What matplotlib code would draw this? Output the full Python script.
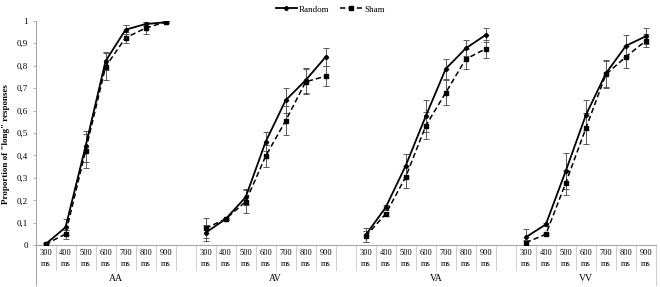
import numpy as np
import matplotlib
matplotlib.use("Agg")
import matplotlib.pyplot as plt

plt.rcParams['font.family'] = ['Liberation Serif', 'DejaVu Serif']

# ---------------- data ----------------
durations = ["300", "400", "500", "600", "700", "800", "900"]
groups = ["AA", "AV", "VA", "VV"]

random_mean = [
    [0.005, 0.08, 0.44, 0.82, 0.96, 0.985, 0.993],   # AA
    [0.056, 0.117, 0.214, 0.461, 0.646, 0.735, 0.839],  # AV
    [0.046, 0.169, 0.355, 0.575, 0.786, 0.877, 0.937],  # VA
    [0.036, 0.093, 0.332, 0.58, 0.765, 0.888, 0.931],   # VV
]
random_err = [
    [0.005, 0.035, 0.07, 0.04, 0.02, 0.01, 0.005],
    [0.035, 0.005, 0.035, 0.042, 0.055, 0.055, 0.04],
    [0.03, 0.01, 0.05, 0.07, 0.045, 0.035, 0.03],
    [0.035, 0.005, 0.08, 0.065, 0.06, 0.05, 0.035],
]
sham_mean = [
    [0.005, 0.05, 0.42, 0.795, 0.924, 0.967, 0.994],
    [0.076, 0.117, 0.194, 0.397, 0.555, 0.728, 0.753],
    [0.04, 0.14, 0.305, 0.532, 0.68, 0.829, 0.875],
    [0.012, 0.049, 0.279, 0.521, 0.761, 0.839, 0.911],
]
sham_err = [
    [0.005, 0.02, 0.075, 0.06, 0.025, 0.025, 0.005],
    [0.045, 0.005, 0.05, 0.05, 0.065, 0.055, 0.045],
    [0.025, 0.01, 0.05, 0.06, 0.055, 0.045, 0.04],
    [0.01, 0.005, 0.055, 0.07, 0.06, 0.05, 0.03],
]

# ---------------- figure ----------------
fig = plt.figure(figsize=(6.6, 2.87), dpi=100)
ax = fig.add_axes([0.0538, 0.1453, 0.940, 0.7826])

slot = len(durations) + 1   # one empty category between groups
n_slots = slot * len(groups) - 1
axis_col = '#a6a6a6'
err_col = '#595959'

for g in range(len(groups)):
    x = np.arange(len(durations)) + g * slot
    ax.errorbar(x, random_mean[g], yerr=random_err[g], fmt='none', ecolor=err_col,
                elinewidth=0.7, capsize=2, capthick=0.7, zorder=2)
    ax.errorbar(x, sham_mean[g], yerr=sham_err[g], fmt='none', ecolor=err_col,
                elinewidth=0.7, capsize=2, capthick=0.7, zorder=2)
    ax.plot(x, random_mean[g], '-', color='black', lw=1.3, marker='D', ms=2.2,
            label='Random' if g == 0 else None, zorder=3)
    ax.plot(x, sham_mean[g], '--', color='black', lw=1.1, marker='s', ms=3.5,
            dashes=(3.5, 2), label='Sham' if g == 0 else None, zorder=3)

ax.set_xlim(-0.5, n_slots - 0.5)
ax.set_ylim(0, 1)

yt = np.round(np.arange(0, 1.01, 0.1), 1)
ax.set_yticks(yt)
ax.set_yticklabels(["0" if v == 0 else ("1" if v == 1 else f"{v:.1f}".replace('.', ','))
                    for v in yt])
ax.tick_params(axis='y', labelsize=6.5, length=2.5, width=0.6, color=axis_col, pad=3)

xt = [g * slot + i for g in range(len(groups)) for i in range(len(durations))]
ax.set_xticks(xt)
ax.set_xticklabels([d + "\nms" for g in groups for d in durations], linespacing=1.35)
ax.tick_params(axis='x', labelsize=6.0, length=0, pad=3)

for side in ['top', 'right']:
    ax.spines[side].set_visible(False)
for side in ['left', 'bottom']:
    ax.spines[side].set_color(axis_col)
    ax.spines[side].set_linewidth(0.8)

# category separators under the axis
trans = ax.get_xaxis_transform()
for g in range(len(groups)):
    last = len(durations) + 1 if g < len(groups) - 1 else len(durations)
    for i in range(last + 1):
        xb = g * slot + i - 0.5
        ax.plot([xb, xb], [0, -0.11], color='#d0d0d0', lw=0.7, transform=trans,
                clip_on=False)
    end = g * slot + last - 0.5
    ax.text((g * slot - 0.5 + end) / 2, -0.148, groups[g], transform=trans,
            ha='center', va='center', fontsize=7)
ax.plot([-0.5, -0.5], [0, -0.177], color=axis_col, lw=0.8, transform=trans, clip_on=False)
ax.plot([n_slots - 0.5, n_slots - 0.5], [0, -0.177], color='#d0d0d0', lw=0.8,
        transform=trans, clip_on=False)

ax.set_ylabel('Proportion of "long" responses', fontsize=6.5, fontweight='bold')
ax.yaxis.set_label_coords(-0.041, 0.45)

fig.legend(loc='upper center', bbox_to_anchor=(0.5, 1.01), ncol=2, frameon=False,
           fontsize=6.5, handlelength=2.4, columnspacing=1.2, handletextpad=0.2)

fig.savefig('out.png', dpi=100)
